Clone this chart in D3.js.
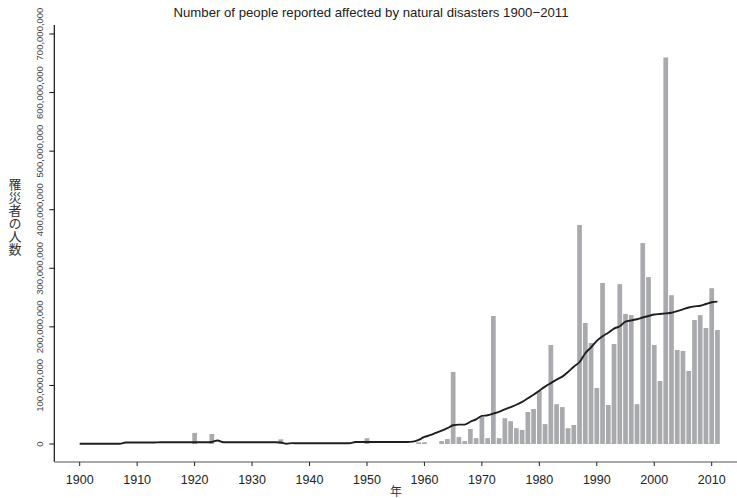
<!DOCTYPE html>
<html>
<head>
<meta charset="utf-8">
<script src="https://cdn.jsdelivr.net/npm/d3@7"></script>
<style>
  html, body { margin: 0; padding: 0; background: #fff; }
  svg { display: block; }
</style>
</head>
<body>
<svg id="chart" width="737" height="498"></svg>
<script>
// ---- data (values in millions of people) ----
const years = d3.range(1900, 2012);

// bars: people affected per year (millions); years not listed are ~0
const barYears = [1920, 1923, 1935, 1950, 1959, 1960,
  1963, 1964, 1965, 1966, 1967, 1968, 1969, 1970, 1971, 1972, 1973, 1974, 1975,
  1976, 1977, 1978, 1979, 1980, 1981, 1982, 1983, 1984, 1985, 1986, 1987, 1988,
  1989, 1990, 1991, 1992, 1993, 1994, 1995, 1996, 1997, 1998, 1999, 2000, 2001,
  2002, 2003, 2004, 2005, 2006, 2007, 2008, 2009, 2010, 2011];
const barValues = [19, 17, 8, 10, 3, 3,
  5, 8.5, 123, 12, 5, 25.6, 10, 46, 10, 218.5, 10, 44, 39,
  27, 24, 54.6, 59.8, 90.5, 34, 169, 68, 63, 27, 32.4, 374, 206.6,
  172.4, 95.6, 275, 66.6, 170.7, 273, 222, 220, 68, 343, 285, 169, 107.6,
  660, 254, 160.5, 158.8, 124.6, 211.7, 220, 198, 266, 194.6];

// smoothed trend line (millions), one value per year 1900-2011
const trendValues = [
  0.5, 0.5, 0.5, 0.5, 0.5, 0.5, 0.5, 0.5, 2.5, 2.5,      // 1900-1909
  2.5, 2.5, 2.5, 2.5, 3, 3, 3, 3, 3, 3,                  // 1910-1919
  3, 3, 3, 3.5, 6, 3, 3, 3, 3, 3,                        // 1920-1929
  3, 3, 3, 3, 3, 2.5, 0.5, 1.5, 1.2, 1.2,                // 1930-1939
  1.2, 1.2, 1.2, 1.2, 1.2, 1.2, 1.2, 1.2, 3.5, 3.5,      // 1940-1949
  3.5, 3.5, 3.5, 3.5, 3.5, 3.5, 3.5, 3.5, 4, 7,          // 1950-1959
  12, 15, 19, 23, 27, 32, 33, 33, 38, 42,                // 1960-1969
  48, 49, 52, 55, 59, 63, 67, 72, 78, 84,                // 1970-1979
  91, 98, 104, 110, 115, 123, 132, 140, 155, 165,        // 1980-1989
  176, 184, 190, 197, 201, 209, 211, 213, 216, 218.5,    // 1990-1999
  221, 222, 223, 224, 227, 230, 233, 235, 236, 239,      // 2000-2009
  242, 243                                               // 2010-2011
];

const yTicks = [0, 100, 200, 300, 400, 500, 600, 700];
const xTicks = d3.range(1900, 2011, 10);

const title = "Number of people reported affected by natural disasters 1900\u22122011";
const yTitle = "罹災者の人数";
const xTitle = "年";

// ---- scales ----
const svg = d3.select("#chart");
const x = d3.scaleLinear().domain([1900, 2010]).range([79.7, 711.7]);
const y = d3.scaleLinear().domain([0, 700]).range([444, 34]);
const step = x(1901) - x(1900);
const barW = step * 0.82;

const latin = "'Liberation Sans', Arial, Helvetica, sans-serif";

// bars
svg.append("g").selectAll("rect")
  .data(barYears.map((yr, i) => ({ yr, v: barValues[i] })))
  .join("rect")
  .attr("x", d => x(d.yr) - barW / 2)
  .attr("width", barW)
  .attr("y", d => y(d.v))
  .attr("height", d => y(0) - y(d.v))
  .attr("fill", "#a9aaad");

// trend line
const line = d3.line().x((d, i) => x(years[i])).y(d => y(d)).curve(d3.curveMonotoneX);
svg.append("path")
  .datum(trendValues)
  .attr("d", line)
  .attr("fill", "none")
  .attr("stroke", "#1e1e1e")
  .attr("stroke-width", 1.9)
  .attr("stroke-linejoin", "round");

// y axis
const yAxisX = 54.3;
const yAxis = svg.append("g").attr("transform", `translate(${yAxisX},0)`);
yAxis.append("line").attr("x1", 0).attr("x2", 0).attr("y1", 25).attr("y2", 462)
  .attr("stroke", "#111").attr("stroke-width", 1.2);
const yt = yAxis.selectAll("g.tick").data(yTicks).join("g").attr("class", "tick")
  .attr("transform", d => `translate(0,${y(d)})`);
yt.append("line").attr("x1", -5).attr("x2", 0).attr("stroke", "#111").attr("stroke-width", 1);
yt.append("text")
  .attr("transform", "translate(-11,0) rotate(-90)")
  .attr("text-anchor", "middle")
  .attr("font-family", latin)
  .attr("font-size", 9.5)
  .attr("fill", "#444")
  .text(d => d3.format(",")(d * 1e6));

// x axis
const xAxisY = 462;
const xAxis = svg.append("g").attr("transform", `translate(0,${xAxisY})`);
xAxis.append("line").attr("x1", yAxisX).attr("x2", 737).attr("y1", 0).attr("y2", 0)
  .attr("stroke", "#8c8c8c").attr("stroke-width", 1.6);
const xt = xAxis.selectAll("g.tick").data(xTicks).join("g").attr("class", "tick")
  .attr("transform", d => `translate(${x(d)},0)`);
xt.append("line").attr("y1", 0).attr("y2", 4).attr("stroke", "#222").attr("stroke-width", 1);
xt.append("text")
  .attr("y", 22)
  .attr("text-anchor", "middle")
  .attr("font-family", latin)
  .attr("font-size", 12.5)
  .attr("fill", "#222")
  .text(d => d);

// titles
svg.append("text")
  .attr("x", 371).attr("y", 17)
  .attr("text-anchor", "middle")
  .attr("font-family", latin)
  .attr("font-size", 13.2)
  .attr("fill", "#222")
  .text(title);

svg.append("text")
  .attr("x", 396).attr("y", 496)
  .attr("text-anchor", "middle")
  .attr("font-family", "'Noto Sans CJK JP', sans-serif")
  .attr("font-size", 12)
  .attr("fill", "#333")
  .text(xTitle);

svg.append("text")
  .attr("x", 15)
  .attr("y", 178)
  .attr("font-family", "'Noto Sans CJK JP', sans-serif")
  .attr("font-size", 13)
  .attr("fill", "#333")
  .style("writing-mode", "vertical-rl")
  .style("text-orientation", "upright")
  .text(yTitle);
</script>
</body>
</html>
